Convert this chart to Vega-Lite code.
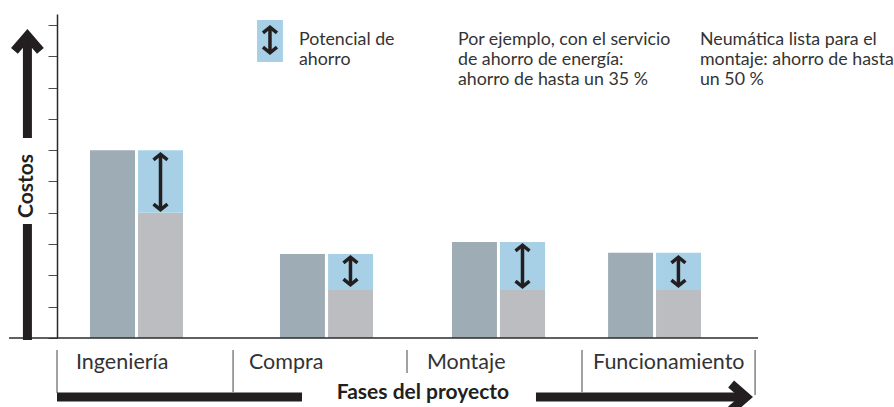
{
  "$schema": "https://vega.github.io/schema/vega-lite/v6.json",
  "width": 700,
  "height": 324,
  "autosize": {"type": "none"},
  "padding": {"left": 57, "top": 14, "right": 137, "bottom": 69},
  "background": "white",
  "config": {
    "view": {"stroke": null},
    "font": "Lato",
    "axisY": {"labels": false, "grid": false, "tickSize": 9, "tickColor": "#4d4d4d", "tickWidth": 1, "domainColor": "#2b2b2b", "domainWidth": 1.5, "tickCount": 10}
  },
  "datasets": {
    "barras": [
      {"fase": "Ingeniería", "tipo": "actual", "x0": 0.1886, "x1": 0.4457, "y0": 0, "y1": 6.0},
      {"fase": "Ingeniería", "tipo": "reducido", "x0": 0.463, "x1": 0.72, "y0": 0, "y1": 4.0},
      {"fase": "Ingeniería", "tipo": "ahorro", "x0": 0.463, "x1": 0.72, "y0": 4.0, "y1": 6.0},
      {"fase": "Compra", "tipo": "actual", "x0": 1.274, "x1": 1.531, "y0": 0, "y1": 2.68},
      {"fase": "Compra", "tipo": "reducido", "x0": 1.549, "x1": 1.806, "y0": 0, "y1": 1.53},
      {"fase": "Compra", "tipo": "ahorro", "x0": 1.549, "x1": 1.806, "y0": 1.53, "y1": 2.68},
      {"fase": "Montaje", "tipo": "actual", "x0": 2.257, "x1": 2.514, "y0": 0, "y1": 3.07},
      {"fase": "Montaje", "tipo": "reducido", "x0": 2.531, "x1": 2.789, "y0": 0, "y1": 1.53},
      {"fase": "Montaje", "tipo": "ahorro", "x0": 2.531, "x1": 2.789, "y0": 1.53, "y1": 3.07},
      {"fase": "Funcionamiento", "tipo": "actual", "x0": 3.149, "x1": 3.406, "y0": 0, "y1": 2.72},
      {"fase": "Funcionamiento", "tipo": "reducido", "x0": 3.423, "x1": 3.68, "y0": 0, "y1": 1.53},
      {"fase": "Funcionamiento", "tipo": "ahorro", "x0": 3.423, "x1": 3.68, "y0": 1.53, "y1": 2.72}
    ],
    "leyenda": [
      {"x0": 1.143, "x1": 1.291, "y0": 8.818, "y1": 10.16}
    ],
    "flechas": [
      {"fase": "Ingeniería", "x": 0.5914, "top": 5.942, "bot": 4.026, "stop": 5.846, "sbot": 4.122},
      {"fase": "Compra", "x": 1.677, "top": 2.652, "bot": 1.629, "stop": 2.556, "sbot": 1.725},
      {"fase": "Montaje", "x": 2.66, "top": 3.035, "bot": 1.565, "stop": 2.939, "sbot": 1.661},
      {"fase": "Funcionamiento", "x": 3.551, "top": 2.652, "bot": 1.597, "stop": 2.556, "sbot": 1.693},
      {"fase": "leyenda", "x": 1.217, "top": 10.0, "bot": 9.04, "stop": 9.904, "sbot": 9.136}
    ],
    "base": [
      {"x": -0.274, "x2": 4.006, "y": 0, "y2": 0}
    ],
    "separadores": [
      {"x": 0, "y": -0.383, "y2": -1.757},
      {"x": 1.006, "y": -0.383, "y2": -1.725},
      {"x": 2.0, "y": -0.383, "y2": -1.118},
      {"x": 3.0, "y": -0.383, "y2": -1.725},
      {"x": 3.989, "y": -0.383, "y2": -1.82}
    ],
    "gruesas": [
      {"parte": "costos arriba", "x": -0.169, "x2": -0.169, "y": 6.39, "y2": 9.521},
      {"parte": "costos abajo", "x": -0.169, "x2": -0.169, "y": -0.064, "y2": 3.642},
      {"parte": "fases izquierda", "x": 0, "x2": 1.4, "y": -1.885, "y2": -1.885},
      {"parte": "fases derecha", "x": 2.737, "x2": 3.931, "y": -1.885, "y2": -1.885}
    ],
    "puntas": [
      {"dir": "arriba", "x": -0.169, "y": 9.87},
      {"dir": "derecha", "x": 3.977, "y": -1.885}
    ],
    "etiquetas": [
      {"fase": "Ingeniería", "x": 0.1086, "y": -0.99},
      {"fase": "Compra", "x": 1.097, "y": -0.99},
      {"fase": "Montaje", "x": 2.114, "y": -0.99},
      {"fase": "Funcionamiento", "x": 3.063, "y": -0.99}
    ],
    "notas": [
      {"texto": "Potencial de\nahorro", "x": 1.383, "y": 9.36},
      {"texto": "Por ejemplo, con el servicio\nde ahorro de energía:\nahorro de hasta un 35 %", "x": 2.291, "y": 9.36},
      {"texto": "Neumática lista para el\nmontaje: ahorro de hasta\nun 50 %", "x": 3.674, "y": 9.36}
    ],
    "titulos": [
      {"titulo": "Costos", "x": -0.137, "y": 4.856},
      {"titulo": "Fases del proyecto", "x": 2.091, "y": -1.949}
    ]
  },
  "layer": [
    {
      "data": {"name": "barras"},
      "mark": {"type": "rect"},
      "encoding": {
        "x": {"field": "x0", "type": "quantitative", "scale": {"domain": [0, 4], "nice": false, "zero": false}, "axis": null},
        "x2": {"field": "x1"},
        "y": {"field": "y1", "type": "quantitative", "title": null, "scale": {"domain": [0, 10.35], "nice": false, "zero": false}},
        "y2": {"field": "y0"},
        "color": {"field": "tipo", "type": "nominal", "scale": {"domain": ["actual", "reducido", "ahorro"], "range": ["#9eacb5", "#bcbdc1", "#a7d0e6"]}, "legend": null}
      }
    },
    {
      "data": {"name": "leyenda"},
      "mark": {"type": "rect", "color": "#a7d0e6"},
      "encoding": {
        "x": {"field": "x0", "type": "quantitative", "axis": null},
        "x2": {"field": "x1"},
        "y": {"field": "y1", "type": "quantitative", "title": null},
        "y2": {"field": "y0"}
      }
    },
    {
      "data": {"name": "base"},
      "mark": {"type": "rule", "color": "#2b2b2b", "strokeWidth": 1.5},
      "encoding": {
        "x": {"field": "x", "type": "quantitative", "axis": null},
        "x2": {"field": "x2"},
        "y": {"field": "y", "type": "quantitative", "title": null},
        "y2": {"field": "y2"}
      }
    },
    {
      "data": {"name": "separadores"},
      "mark": {"type": "rule", "color": "#444444", "strokeWidth": 1},
      "encoding": {
        "x": {"field": "x", "type": "quantitative", "axis": null},
        "y": {"field": "y", "type": "quantitative", "title": null},
        "y2": {"field": "y2"}
      }
    },
    {
      "data": {"name": "gruesas"},
      "mark": {"type": "rule", "color": "#231f20", "strokeWidth": 9, "strokeCap": "butt"},
      "encoding": {
        "x": {"field": "x", "type": "quantitative", "axis": null},
        "x2": {"field": "x2"},
        "y": {"field": "y", "type": "quantitative", "title": null},
        "y2": {"field": "y2"}
      }
    },
    {
      "data": {"name": "puntas"},
      "mark": {"type": "point", "filled": false, "strokeWidth": 9, "size": 676, "opacity": 1, "color": "#231f20", "strokeJoin": "miter", "strokeCap": "butt"},
      "encoding": {
        "x": {"field": "x", "type": "quantitative", "axis": null},
        "y": {"field": "y", "type": "quantitative", "title": null},
        "shape": {"field": "dir", "type": "nominal", "scale": {"domain": ["arriba", "derecha"], "range": ["M-1,1.682L0,0.528L1,1.682", "M-1.682,-1L-0.528,0L-1.682,1"]}, "legend": null}
      }
    },
    {
      "data": {"name": "flechas"},
      "mark": {"type": "rule", "color": "#231f20", "strokeWidth": 3.5, "strokeCap": "butt"},
      "encoding": {
        "x": {"field": "x", "type": "quantitative", "axis": null},
        "y": {"field": "stop", "type": "quantitative", "title": null},
        "y2": {"field": "sbot"}
      }
    },
    {
      "data": {"name": "flechas"},
      "mark": {"type": "point", "shape": "M-1,1.12L0,0.32L1,1.12", "filled": false, "strokeWidth": 3.5, "size": 196, "opacity": 1, "color": "#231f20", "strokeJoin": "miter", "strokeCap": "butt"},
      "encoding": {
        "x": {"field": "x", "type": "quantitative", "axis": null},
        "y": {"field": "top", "type": "quantitative", "title": null}
      }
    },
    {
      "data": {"name": "flechas"},
      "mark": {"type": "point", "shape": "M-1,-1.12L0,-0.32L1,-1.12", "filled": false, "strokeWidth": 3.5, "size": 196, "opacity": 1, "color": "#231f20", "strokeJoin": "miter", "strokeCap": "butt"},
      "encoding": {
        "x": {"field": "x", "type": "quantitative", "axis": null},
        "y": {"field": "bot", "type": "quantitative", "title": null}
      }
    },
    {
      "data": {"name": "etiquetas"},
      "mark": {"type": "text", "align": "left", "baseline": "alphabetic", "fontSize": 21.5, "font": "Lato", "color": "#333333"},
      "encoding": {
        "x": {"field": "x", "type": "quantitative", "axis": null},
        "y": {"field": "y", "type": "quantitative", "title": null},
        "text": {"field": "fase"}
      }
    },
    {
      "data": {"name": "notas"},
      "mark": {"type": "text", "align": "left", "baseline": "alphabetic", "fontSize": 17.8, "lineHeight": 20, "lineBreak": "\n", "font": "Lato", "color": "#333333"},
      "encoding": {
        "x": {"field": "x", "type": "quantitative", "axis": null},
        "y": {"field": "y", "type": "quantitative", "title": null},
        "text": {"field": "texto"}
      }
    },
    {
      "data": {"name": "titulos"},
      "transform": [{"filter": "datum.titulo === 'Costos'"}],
      "mark": {"type": "text", "align": "center", "baseline": "alphabetic", "angle": 270, "fontSize": 21, "fontWeight": "bold", "font": "Lato", "color": "#231f20"},
      "encoding": {
        "x": {"field": "x", "type": "quantitative", "axis": null},
        "y": {"field": "y", "type": "quantitative", "title": null},
        "text": {"field": "titulo"}
      }
    },
    {
      "data": {"name": "titulos"},
      "transform": [{"filter": "datum.titulo !== 'Costos'"}],
      "mark": {"type": "text", "align": "center", "baseline": "alphabetic", "fontSize": 21, "fontWeight": "bold", "font": "Lato", "color": "#231f20"},
      "encoding": {
        "x": {"field": "x", "type": "quantitative", "axis": null},
        "y": {"field": "y", "type": "quantitative", "title": null},
        "text": {"field": "titulo"}
      }
    }
  ]
}
